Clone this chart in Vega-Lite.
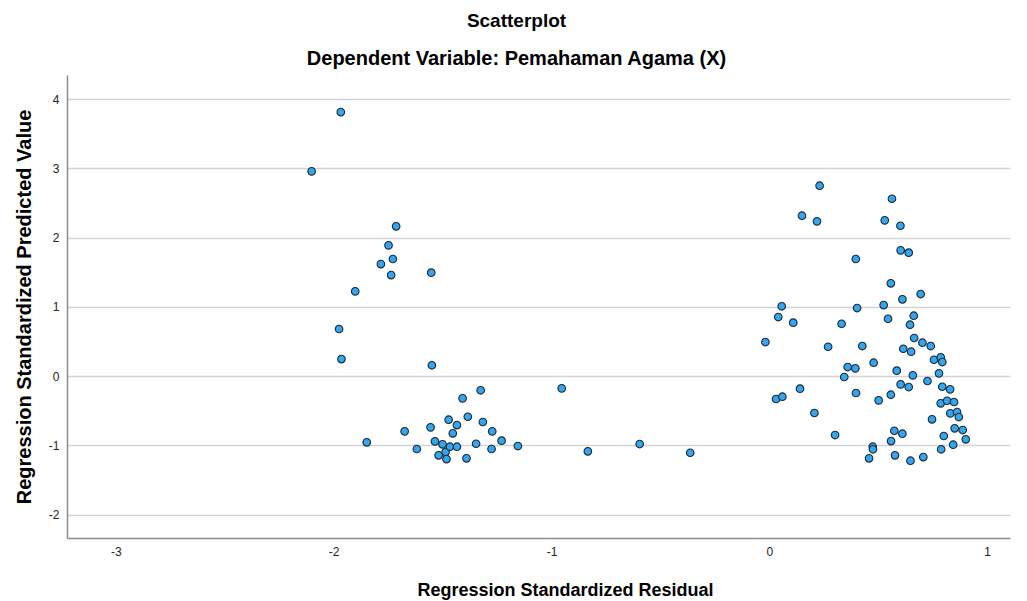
{
  "$schema": "https://vega.github.io/schema/vega-lite/v6.json",
  "width": 943,
  "height": 463,
  "autosize": "none",
  "padding": {"left": 67, "top": 75, "right": 17, "bottom": 63},
  "background": "white",
  "title": {
    "text": "Scatterplot",
    "subtitle": "Dependent Variable: Pemahaman Agama (X)",
    "font": "Liberation Sans",
    "subtitleFont": "Liberation Sans",
    "fontSize": 19,
    "subtitleFontSize": 20,
    "fontWeight": "bold",
    "subtitleFontWeight": "bold",
    "color": "#000000",
    "subtitleColor": "#000000",
    "anchor": "middle",
    "dx": -22,
    "offset": 6,
    "subtitlePadding": 18
  },
  "config": {
    "view": {"stroke": null},
    "axis": {
      "labelFont": "Liberation Sans",
      "titleFont": "Liberation Sans",
      "labelFontSize": 12,
      "labelColor": "#222222",
      "titleFontWeight": "bold",
      "titleColor": "#000000",
      "ticks": false,
      "domainColor": "#8c8c8c",
      "domainWidth": 1.5,
      "labelExpr": "replace(datum.label, '\u2212', '-')"
    }
  },
  "data": {
    "values": [
      {"x": -1.967, "y": 3.812}, {"x": -2.101, "y": 2.956}, {"x": -1.713, "y": 2.162}, {"x": -1.748, "y": 1.887},
      {"x": -1.728, "y": 1.690}, {"x": -1.783, "y": 1.617}, {"x": -1.736, "y": 1.458}, {"x": -1.552, "y": 1.492},
      {"x": -1.901, "y": 1.223}, {"x": -1.975, "y": 0.679}, {"x": -1.964, "y": 0.245}, {"x": -1.549, "y": 0.155},
      {"x": -1.848, "y": -0.957}, {"x": -1.674, "y": -0.799}, {"x": -1.618, "y": -1.054}, {"x": -1.555, "y": -0.741},
      {"x": -1.535, "y": -0.943}, {"x": -1.500, "y": -0.986}, {"x": -1.518, "y": -1.145}, {"x": -1.486, "y": -1.097},
      {"x": -1.482, "y": -1.199}, {"x": -1.466, "y": -1.021}, {"x": -1.472, "y": -0.631}, {"x": -1.453, "y": -0.827},
      {"x": -1.434, "y": -0.708}, {"x": -1.434, "y": -1.021}, {"x": -1.408, "y": -0.322}, {"x": -1.384, "y": -0.588},
      {"x": -1.390, "y": -1.188}, {"x": -1.346, "y": -0.978}, {"x": -1.325, "y": -0.206}, {"x": -1.315, "y": -0.664},
      {"x": -1.272, "y": -0.799}, {"x": -1.275, "y": -1.054}, {"x": -1.229, "y": -0.934}, {"x": -1.154, "y": -1.011},
      {"x": -0.953, "y": -0.178}, {"x": -0.833, "y": -1.087}, {"x": -0.595, "y": -0.982}, {"x": -0.363, "y": -1.108},
      {"x": 0.231, "y": 2.748}, {"x": 0.563, "y": 2.560}, {"x": 0.150, "y": 2.315}, {"x": 0.219, "y": 2.234},
      {"x": 0.530, "y": 2.248}, {"x": 0.602, "y": 2.170}, {"x": 0.603, "y": 1.815}, {"x": 0.640, "y": 1.781},
      {"x": 0.397, "y": 1.690}, {"x": 0.558, "y": 1.339}, {"x": 0.695, "y": 1.184}, {"x": 0.611, "y": 1.108},
      {"x": 0.057, "y": 1.007}, {"x": 0.403, "y": 0.982}, {"x": 0.525, "y": 1.025}, {"x": 0.041, "y": 0.852},
      {"x": 0.110, "y": 0.770}, {"x": 0.332, "y": 0.755}, {"x": 0.545, "y": 0.827}, {"x": 0.663, "y": 0.871},
      {"x": 0.646, "y": 0.741}, {"x": -0.018, "y": 0.491}, {"x": 0.665, "y": 0.549}, {"x": 0.703, "y": 0.481},
      {"x": 0.741, "y": 0.433}, {"x": 0.270, "y": 0.423}, {"x": 0.427, "y": 0.433}, {"x": 0.615, "y": 0.394},
      {"x": 0.651, "y": 0.351}, {"x": 0.756, "y": 0.235}, {"x": 0.787, "y": 0.270}, {"x": 0.794, "y": 0.202},
      {"x": 0.479, "y": 0.192}, {"x": 0.360, "y": 0.130}, {"x": 0.395, "y": 0.111}, {"x": 0.344, "y": -0.014},
      {"x": 0.585, "y": 0.077}, {"x": 0.659, "y": 0.010}, {"x": 0.779, "y": 0.039}, {"x": 0.141, "y": -0.183},
      {"x": 0.031, "y": -0.332}, {"x": 0.060, "y": -0.299}, {"x": 0.398, "y": -0.245}, {"x": 0.603, "y": -0.120},
      {"x": 0.640, "y": -0.159}, {"x": 0.726, "y": -0.072}, {"x": 0.794, "y": -0.155}, {"x": 0.830, "y": -0.192},
      {"x": 0.502, "y": -0.351}, {"x": 0.558, "y": -0.270}, {"x": 0.787, "y": -0.394}, {"x": 0.816, "y": -0.357},
      {"x": 0.848, "y": -0.375}, {"x": 0.831, "y": -0.539}, {"x": 0.862, "y": -0.520}, {"x": 0.870, "y": -0.592},
      {"x": 0.207, "y": -0.534}, {"x": 0.747, "y": -0.625}, {"x": 0.302, "y": -0.852}, {"x": 0.574, "y": -0.790},
      {"x": 0.611, "y": -0.833}, {"x": 0.801, "y": -0.866}, {"x": 0.851, "y": -0.755}, {"x": 0.888, "y": -0.780},
      {"x": 0.902, "y": -0.914}, {"x": 0.844, "y": -0.992}, {"x": 0.559, "y": -0.939}, {"x": 0.475, "y": -1.021},
      {"x": 0.476, "y": -1.058}, {"x": 0.789, "y": -1.058}, {"x": 0.577, "y": -1.145}, {"x": 0.458, "y": -1.188},
      {"x": 0.648, "y": -1.223}, {"x": 0.707, "y": -1.170}
    ]
  },
  "mark": {"type": "point", "filled": true, "shape": "circle", "size": 58, "color": "#34a5f0", "stroke": "#1c2a33", "strokeWidth": 1.1, "opacity": 1},
  "encoding": {
    "x": {
      "field": "x", "type": "quantitative",
      "scale": {"domain": [-3.224, 1.105], "nice": false, "zero": false},
      "axis": {"values": [-3, -2, -1, 0, 1], "grid": false, "title": "Regression Standardized Residual", "titleFontSize": 18, "labelPadding": 8, "titlePadding": 24, "titleX": 498}
    },
    "y": {
      "field": "y", "type": "quantitative",
      "scale": {"domain": [-2.339, 4.347], "nice": false, "zero": false},
      "axis": {"values": [-2, -1, 0, 1, 2, 3, 4], "grid": true, "gridColor": "#d4d4d4", "gridWidth": 1.5, "title": "Regression Standardized Predicted Value", "titleFontSize": 20, "labelPadding": 8, "titlePadding": 14}
    }
  }
}
